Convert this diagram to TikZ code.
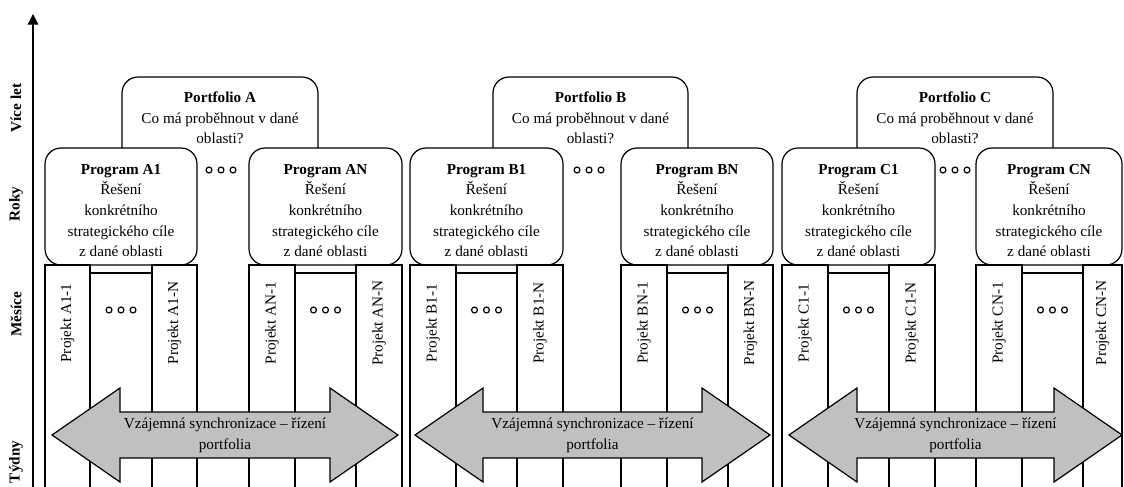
\documentclass[tikz,border=0pt]{standalone}
\usepackage{fontspec}
\setmainfont{Liberation Serif}
\usetikzlibrary{arrows.meta}
\definecolor{arrowgray}{RGB}{192,192,192}
\begin{document}
\begin{tikzpicture}[x=0.75pt,y=-0.75pt,
  frame/.style={draw=black, line width=0.9pt, fill=white, rounded corners=12pt},
  colrect/.style={draw=black, line width=0.9pt, fill=white},
  txt/.style={font=\fontsize{11.4}{15.5}\selectfont, align=center, inner sep=0pt},
  axlbl/.style={font=\bfseries\fontsize{11.4}{14}\selectfont, rotate=90, inner sep=0pt},
  projlbl/.style={font=\fontsize{11.4}{14}\selectfont, rotate=90, inner sep=0pt},
  synarrow/.style={draw=black, line width=0.9pt, fill=arrowgray, line join=miter},
  ring/.style={draw=black, line width=0.9pt}]

\useasboundingbox (0,0) rectangle (1124,486);
\clip (0,0) rectangle (1124,486);

% time axis and its scale labels
\coordinate (axbot) at (33,490);
\coordinate (axtop) at (33,14);
\draw[line width=1pt, -{Triangle[length=8pt,width=8pt]}] (axbot) -- (axtop);
\node[axlbl] (lyears)  at (16,108) {Více let};
\node[axlbl] (lyear)   at (16,204) {Roky};
\node[axlbl] (lmonths) at (16,314) {Měsíce};
\node[axlbl] (lweeks)  at (16,462) {Týdny};

% three small rings used as an ellipsis
\newcommand\ringdots[2]{%
  \foreach \k in {-1,0,1}{\draw[ring] ({#1+12*\k},#2) circle[radius=2.2pt];}}

% portfolio box: its lower part disappears behind the program boxes
\newcommand\portfolio[4]{% name, x1, x2, letter
  \draw[frame] (#2,152) -- (#2,77) -- (#3,77) -- (#3,152);
  \node[txt] (#1) at ({(#2+#3)/2},118)
    {\textbf{Portfolio #4}\\Co má proběhnout v dané\\oblasti?};}

% program box with its description
\newcommand\program[4]{% name, x1, x2, label
  \draw[frame] (#2,148) rectangle (#3,265);
  \node[txt] (#1) at ({(#2+#3)/2},210.5)
    {\textbf{Program #4}\\Řešení\\konkrétního\\strategického cíle\\z dané oblasti};}

% project column with rotated label
\newcommand\project[4]{% name, x1, x2, label
  \draw[colrect] (#2,265) rectangle (#3,500);
  \node[projlbl] (#1) at ({(#2+#3)/2},323) {Projekt #4};}

% strip between two project columns holding an ellipsis
\newcommand\gapstrip[3]{% x1, x2, name
  \draw[colrect] (#1,273) rectangle (#2,500);
  \coordinate (#3) at ({(#1+#2)/2},310);
  \ringdots{(#1+#2)/2}{310}}

% double-headed synchronisation arrow
\newcommand\syncarrow[3]{% name, left tip, right tip
  \draw[synarrow] (#2,435) -- ({#2+68},388) -- ({#2+68},412) -- ({#3-68},412)
    -- ({#3-68},388) -- (#3,435) -- ({#3-68},482) -- ({#3-68},458)
    -- ({#2+68},458) -- ({#2+68},482) -- cycle;
  \node[txt] (#1) at ({(#2+#3)/2},435) {Vzájemná synchronizace – řízení\\portfolia};}

% ---- portfolio A ----
\portfolio{pA}{122}{318}{A}
\program{prA1}{45}{197}{A1}
\program{prAN}{249}{402}{AN}
\ringdots{221}{170}
\project{pjA11}{45}{90}{A1-1}
\gapstrip{90}{152}{gA1}
\project{pjA1N}{152}{197}{A1-N}
\project{pjAN1}{249}{295}{AN-1}
\gapstrip{295}{356}{gAN}
\project{pjANN}{356}{402}{AN-N}
\syncarrow{sA}{52}{398}

% ---- portfolio B ----
\portfolio{pB}{493}{688}{B}
\program{prB1}{410}{563}{B1}
\program{prBN}{621}{773}{BN}
\ringdots{589}{170}
\project{pjB11}{410}{456}{B1-1}
\gapstrip{456}{517}{gB1}
\project{pjB1N}{517}{563}{B1-N}
\project{pjBN1}{621}{667}{BN-1}
\gapstrip{667}{728}{gBN}
\project{pjBNN}{728}{773}{BN-N}
\syncarrow{sB}{415}{770}

% ---- portfolio C ----
\portfolio{pC}{857}{1053}{C}
\program{prC1}{782}{935}{C1}
\program{prCN}{976}{1122}{CN}
\ringdots{955}{170}
\project{pjC11}{782}{828}{C1-1}
\gapstrip{828}{889}{gC1}
\project{pjC1N}{889}{935}{C1-N}
\project{pjCN1}{976}{1022}{CN-1}
\gapstrip{1022}{1083}{gCN}
\project{pjCNN}{1083}{1122}{CN-N}
\syncarrow{sC}{789}{1122}
\end{tikzpicture}
\end{document}
